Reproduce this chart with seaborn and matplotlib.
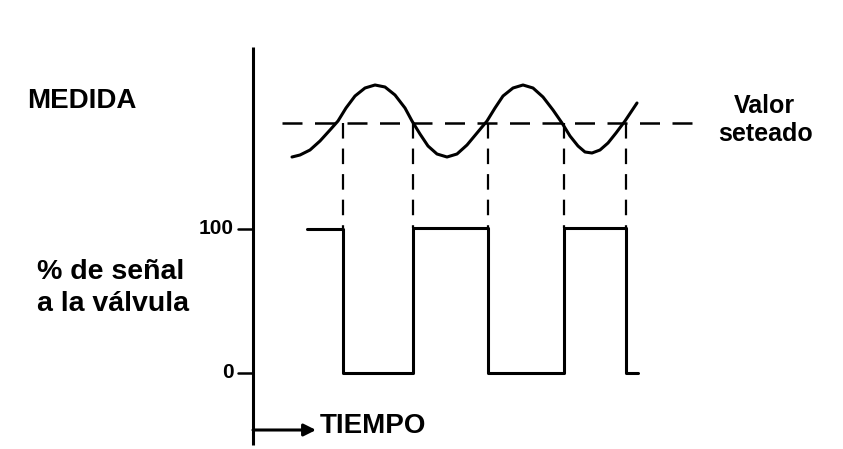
import matplotlib
matplotlib.use("Agg")
import matplotlib.pyplot as plt
import seaborn as sns
import pandas as pd

sns.set_theme(style="white")
plt.rcParams['font.family'] = ['Liberation Sans', 'DejaVu Sans']

# ---- data (x = time position, y = vertical position) ----
curve_x = [292, 300, 310, 320, 330, 338, 346, 355, 365, 375, 385, 395, 405, 412,
           420, 428, 437, 447, 457, 467, 477, 487, 495, 503, 513, 523, 533, 543,
           553, 562, 570, 578, 585, 592, 600, 608, 616, 625, 631, 637]
curve_y = [157, 155, 150, 141, 130, 121, 108, 96, 88, 85, 87, 95, 108, 121,
           134, 146, 154, 157, 154, 145, 133, 121, 108, 96, 88, 85, 88, 97,
           110, 123, 136, 146, 152, 153, 150, 143, 133, 121, 112, 103]

square_x = [307, 343, 343, 413, 413, 488, 488, 564, 564, 626, 626, 638]
square_y = [229, 229, 373, 373, 228, 228, 373, 373, 228, 228, 373, 373]

setpoint_y = 123
setpoint_x = [282, 698]
switch_x = [343, 413, 488, 564, 626]

tick_labels = ["100", "0"]
tick_y = [229, 373]

fig = plt.figure(figsize=(8.43, 4.49), dpi=100)
ax = fig.add_axes([0, 0, 1, 1])
ax.set_xlim(0, 843)
ax.set_ylim(449, 0)
ax.axis("off")

# measured value curve
sns.lineplot(x=curve_x, y=curve_y, ax=ax, color="black", lw=2.2,
             estimator=None, sort=False)
# valve signal square wave
sq = pd.DataFrame({"t": square_x, "v": square_y})
sns.lineplot(data=sq, x="t", y="v", ax=ax, color="black", lw=2.2,
             estimator=None, sort=False)

# set point dashed line
ax.plot(setpoint_x, [setpoint_y, setpoint_y], color="black", lw=1.8,
        dashes=(8, 5))
# vertical dashed switching lines
for sx in switch_x:
    ax.plot([sx, sx], [setpoint_y, 228], color="black", lw=1.6, dashes=(7, 4.5))

# vertical axis
ax.plot([253, 253], [47, 445], color="black", lw=2.2, solid_capstyle="butt")
# ticks
for lab, ty in zip(tick_labels, tick_y):
    ax.plot([238, 253], [ty, ty], color="black", lw=1.8)
    ax.text(234, ty, lab, ha="right", va="center", fontsize=15,
            fontweight="semibold", color="black")

# time arrow
ax.annotate("", xy=(316, 430), xytext=(253, 430),
            arrowprops=dict(arrowstyle="-|>", color="black", lw=2.2,
                            mutation_scale=18, shrinkA=0, shrinkB=0))
ax.text(320, 426, "TIEMPO", ha="left", va="center", fontsize=20,
        fontweight="bold", color="black")

# labels
ax.text(27, 101, "MEDIDA", ha="left", va="center", fontsize=20,
        fontweight="bold", color="black")
ax.text(37, 272, "% de señal", ha="left", va="center", fontsize=20.5,
        fontweight="bold", color="black")
ax.text(37, 304, "a la válvula", ha="left", va="center", fontsize=20.5,
        fontweight="bold", color="black")
ax.text(764, 106, "Valor", ha="center", va="center", fontsize=18,
        fontweight="bold", color="black")
ax.text(766, 134, "seteado", ha="center", va="center", fontsize=18,
        fontweight="bold", color="black")

fig.savefig("out.png", dpi=100, facecolor="white")
